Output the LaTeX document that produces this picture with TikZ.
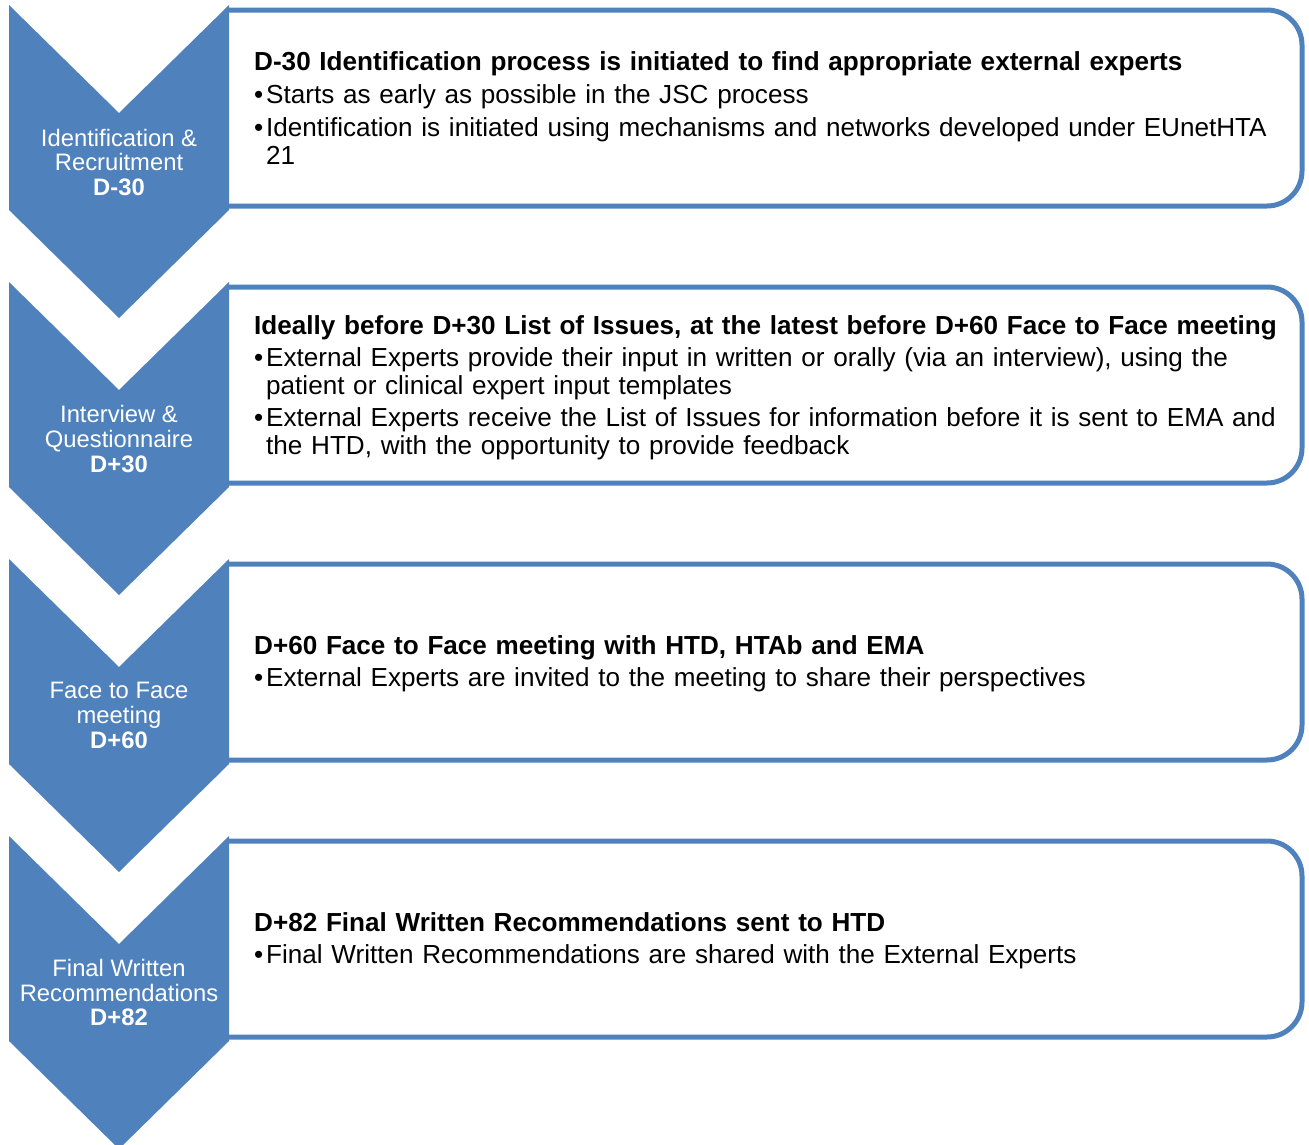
\documentclass[tikz,border=0pt]{standalone}
\usepackage{fontspec}
\setmainfont{Liberation Sans}
\definecolor{accent}{RGB}{79,129,189}

% bullet with a fixed hanging indent
\newcommand\itembullet{\makebox[12pt][l]{•}}
\newcommand\hang{\hspace*{12pt}}

\begin{document}
\begin{tikzpicture}[x=1pt,y=-1pt,
  stepbox/.style={draw=accent, line width=5pt, fill=white, rounded corners=35pt},
  chevron/.style={fill=accent},
  steplabel/.style={text=white, align=center, inner sep=0pt,
    font=\fontsize{23.8}{24.7}\selectfont},
  boxtext/.style={anchor=west, align=left, inner sep=0pt, text width=1045pt,
    font=\fontsize{26.1}{27.7}\selectfont}]
\useasboundingbox (0,0) rectangle (1309,1144);
\clip (0,0) rectangle (1309,1144);

% detail boxes, open on the left where the chevrons sit
\foreach \y in {5,282,559,836} {
  \draw[stepbox] (229,\y+5) -- (1302,\y+5) -- (1302,\y+201) -- (229,\y+201);
}

% downward chevrons
\foreach \y in {5,282,559,836} {
  \fill[chevron] (9,\y) -- (119,\y+108) -- (229,\y) -- (229,\y+205)
    -- (119,\y+313) -- (9,\y+205) -- cycle;
}

% stage labels
\node[steplabel] (s1) at (119,162.5) {Identification \&\\Recruitment\\\textbf{D-30}};
\node[steplabel] (s2) at (119,439) {Interview \&\\Questionnaire\\\textbf{D+30}};
\node[steplabel] (s3) at (119,715.5) {Face to Face\\meeting\\\textbf{D+60}};
\node[steplabel] (s4) at (119,992.5) {Final Written\\Recommendations\\\textbf{D+82}};

% stage details
\node[boxtext] (t1) at (254,108) {%
  \textbf{D-30 Identification process is initiated to find appropriate external experts}\\[5pt]
  \itembullet Starts as early as possible in the JSC process\\[5pt]
  \itembullet Identification is initiated using mechanisms and networks developed under EUnetHTA\\
  \hang 21};
\node[boxtext] (t2) at (254,387.5) {%
  \textbf{Ideally before D+30 List of Issues, at the latest before D+60 Face to Face meeting}\\[4.5pt]
  \itembullet External Experts provide their input in written or orally (via an interview), using the\\
  \hang patient or clinical expert input templates\\[4.5pt]
  \itembullet External Experts receive the List of Issues for information before it is sent to EMA and\\
  \hang the HTD, with the opportunity to provide feedback};
\node[boxtext] (t3) at (254,663.5) {%
  \textbf{D+60 Face to Face meeting with HTD, HTAb and EMA}\\[4.5pt]
  \itembullet External Experts are invited to the meeting to share their perspectives};
\node[boxtext] (t4) at (254,940.5) {%
  \textbf{D+82 Final Written Recommendations sent to HTD}\\[4.5pt]
  \itembullet Final Written Recommendations are shared with the External Experts};
\end{tikzpicture}
\end{document}
